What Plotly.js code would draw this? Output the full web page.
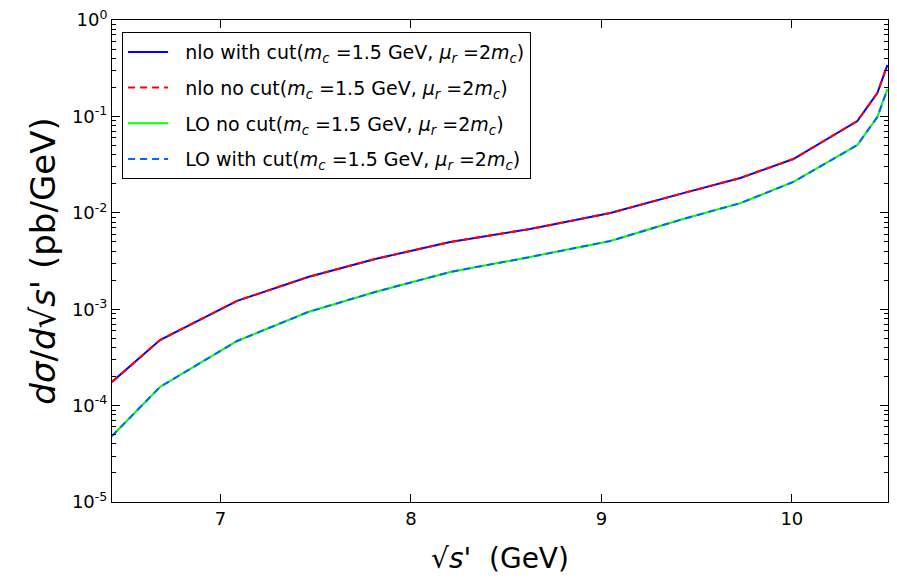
<!DOCTYPE html>
<html>
<head>
<meta charset="utf-8">
<script src="https://cdn.plot.ly/plotly-3.0.1.min.js"></script>
<style>
  body { margin: 0; background: #fff; }
  #plot { width: 897px; height: 585px; }
</style>
</head>
<body>
<div id="plot"></div>
<script>
// ------------ data ------------
// sqrt(s') in GeV
const sqrtS = [6.43, 6.682, 7.087, 7.46, 7.812, 8.206, 8.626, 9.047, 9.43, 9.73, 10.008, 10.344, 10.449, 10.502];

// dsigma/dsqrt(s'), pb/GeV
const nloCut = [1.76e-4, 4.79e-4, 1.22e-3, 2.16e-3, 3.32e-3, 4.98e-3, 6.79e-3, 9.95e-3, 1.60e-2, 2.30e-2, 3.61e-2, 8.95e-2, 0.175, 0.341];
const nloNoCut = [1.76e-4, 4.79e-4, 1.22e-3, 2.16e-3, 3.32e-3, 4.98e-3, 6.79e-3, 9.95e-3, 1.60e-2, 2.30e-2, 3.61e-2, 8.95e-2, 0.175, 0.341];
const loNoCut = [4.84e-5, 1.56e-4, 4.68e-4, 9.35e-4, 1.51e-3, 2.43e-3, 3.48e-3, 5.10e-3, 8.63e-3, 1.26e-2, 2.09e-2, 5.05e-2, 0.0986, 0.192];
const loCut = [4.84e-5, 1.56e-4, 4.68e-4, 9.35e-4, 1.51e-3, 2.43e-3, 3.48e-3, 5.10e-3, 8.63e-3, 1.26e-2, 2.09e-2, 5.05e-2, 0.0986, 0.192];

const xTickVals = [7, 8, 9, 10];
const yTickVals = [1e-5, 1e-4, 1e-3, 1e-2, 1e-1, 1];
const yTickText = ["10<sup>-5</sup>", "10<sup>-4</sup>", "10<sup>-3</sup>", "10<sup>-2</sup>", "10<sup>-1</sup>", "10<sup>0</sup>"];

const params = "(<i>m<sub>c</sub></i> =1.5 GeV, <i>μ<sub>r</sub></i> =2<i>m<sub>c</sub></i>)";
const names = [
  "nlo with cut" + params,
  "nlo no cut" + params,
  "LO no cut" + params,
  "LO with cut" + params,
];

// ------------ plot ------------
// a little gap between the line sample and the label, like matplotlib
const pad = "\u00a0\u00a0";

function makeTrace(y, name, color, dash, group) {
  return {
    x: sqrtS,
    y: y,
    name: pad + name,
    legendgroup: group,
    type: "scatter",
    mode: "lines",
    hoverinfo: "none",
    line: { color: color, width: 2, dash: dash },
  };
}

const data = [
  makeTrace(nloCut, names[0], "rgb(0,0,255)", "solid", "a"),
  makeTrace(nloNoCut, names[1], "rgb(255,0,0)", "7px,5px", "b"),
  makeTrace(loNoCut, names[2], "rgb(0,255,0)", "solid", "c"),
  makeTrace(loCut, names[3], "rgb(0,102,255)", "7px,5px", "d"),
];

const axisFont = { family: "DejaVu Sans", size: 18, color: "#000" };

const layout = {
  width: 897,
  height: 585,
  margin: { t: 20, b: 83, l: 112, r: 9 },
  paper_bgcolor: "#fff",
  plot_bgcolor: "#fff",
  font: { family: "DejaVu Sans", color: "#000" },
  showlegend: true,
  legend: {
    x: 0.013,
    y: 0.975,
    xanchor: "left",
    yanchor: "top",
    bgcolor: "#fff",
    bordercolor: "#000",
    borderwidth: 1,
    tracegroupgap: 8,
    itemwidth: 40,
    font: { family: "DejaVu Sans", size: 19, color: "#000" },
  },
  xaxis: {
    range: [6.43, 10.505],
    tickvals: xTickVals,
    ticks: "inside",
    ticklen: 8,
    tickcolor: "#000",
    showline: true,
    linecolor: "#000",
    linewidth: 1,
    mirror: "ticks",
    showgrid: false,
    zeroline: false,
    tickfont: axisFont,
    title: {
      text: "√<i>s'</i>  (GeV)",
      font: { family: "DejaVu Sans", size: 28, color: "#000" },
      standoff: 20,
    },
  },
  yaxis: {
    type: "log",
    range: [-5, 0],
    tickvals: yTickVals,
    ticktext: yTickText,
    ticks: "inside",
    ticklen: 8,
    tickcolor: "#000",
    minor: { ticks: "inside", ticklen: 4, tickcolor: "#000", dtick: "D1", showgrid: false },
    showline: true,
    linecolor: "#000",
    linewidth: 1,
    mirror: "ticks",
    showgrid: false,
    zeroline: false,
    tickfont: axisFont,
    title: {
      text: "<i>dσ</i>/<i>d</i>√<i>s'</i> (pb/GeV)",
      font: { family: "DejaVu Sans", size: 34, color: "#000" },
      standoff: 6,
    },
  },
};

Plotly.newPlot("plot", data, layout, { displayModeBar: false, staticPlot: true });
</script>
</body>
</html>
